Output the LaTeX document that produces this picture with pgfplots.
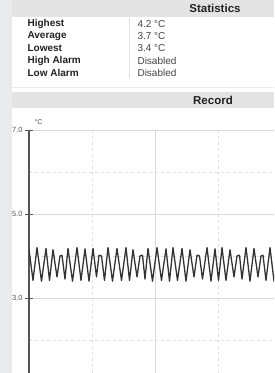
\documentclass[border=0pt]{standalone}
\usepackage{pgfplots}
\pgfplotsset{compat=1.18}
\usepackage{fontspec}
\setmainfont{Liberation Sans}
\definecolor{bgleft}{HTML}{E8EAEC}
\definecolor{hdr}{HTML}{E4E4E4}
\definecolor{gridc}{HTML}{DADADA}
\definecolor{gridm}{HTML}{E0E0E0}
\definecolor{txt}{HTML}{222222}
\definecolor{val}{HTML}{444444}
\definecolor{axc}{HTML}{555555}
\begin{document}
\begin{tikzpicture}[x=1pt,y=1pt]
\path[use as bounding box] (0,0) rectangle (274,373);
\clip (0,0) rectangle (274,373);
\fill[bgleft] (0,0) rectangle (274,373);
\fill[white] (12,0) rectangle (274,373);
% statistics header
\fill[hdr] (12,356) rectangle (274,373);
\node[font=\fontsize{11.5}{12}\selectfont\bfseries, text=txt] at (215,364.5) {Statistics};
\draw[gridm] (129,295) -- (129,355);
\draw[gridm!60] (12,286) -- (274,286);
\begin{scope}[font=\fontsize{10}{11}\selectfont]
\node[anchor=west, text=txt, font=\fontsize{10}{11}\selectfont\bfseries] at (24,349) {Highest};
\node[anchor=west, text=txt, font=\fontsize{10}{11}\selectfont\bfseries] at (24,336.8) {Average};
\node[anchor=west, text=txt, font=\fontsize{10}{11}\selectfont\bfseries] at (24,324.6) {Lowest};
\node[anchor=west, text=txt, font=\fontsize{10}{11}\selectfont\bfseries] at (24,312.4) {High Alarm};
\node[anchor=west, text=txt, font=\fontsize{10}{11}\selectfont\bfseries] at (24,300.2) {Low Alarm};
\node[anchor=west, text=val] at (134,349) {4.2 °C};
\node[anchor=west, text=val] at (134,336.8) {3.7 °C};
\node[anchor=west, text=val] at (134,324.6) {3.4 °C};
\node[anchor=west, text=val] at (134,312.4) {Disabled};
\node[anchor=west, text=val] at (134,300.2) {Disabled};
\end{scope}
% record header
\fill[hdr] (12,265) rectangle (274,281);
\node[font=\fontsize{11.5}{12}\selectfont\bfseries, text=txt] at (213,272.5) {Record};
\begin{axis}[
  at={(29pt,0pt)}, anchor=south west,
  scale only axis, width=245pt, height=243pt,
  xmin=0, xmax=245, ymin=1.214, ymax=7,
  axis lines*=left,
  x axis line style={draw=none},
  y axis line style={draw=axc, line width=1.1pt},
  xtick={126,252}, minor xtick={63,189}, xticklabels={},
  xtick style={draw=none},
  ytick={3,5,7}, minor ytick={2,4,6},
  tick align=center, major tick length=8pt, minor tick length=0pt,
  ytick style={draw=axc, line width=0.8pt},
  grid=both,
  major grid style={draw=gridc, line width=0.6pt},
  minor grid style={draw=gridm, dashed, line width=0.5pt},
  yticklabel style={font=\fontsize{7.5}{8}\selectfont, text=axc, xshift=1pt,
    /pgf/number format/.cd, fixed, fixed zerofill, precision=1, assume math mode=true},
  clip=true,
]
\addplot[draw=black!80, line width=1.3pt, line join=round] coordinates {
(0,4.15) (4,3.42) (8,4.2) (12.5,3.4) (17,4.18) (20.5,3.42) (24,4.15) (28,3.5)
(31,4.0) (33,4.02) (36,3.45) (39,4.18) (43.5,3.4) (48,4.2) (52,3.42) (56,4.17)
(60,3.4) (64,4.18) (67.5,3.5) (70,4.02) (72.5,4.0) (75.5,3.42) (79,4.2) (83.5,3.4)
(88,4.18) (92.5,3.42) (97,4.2) (100.5,3.42) (104,4.15) (108,3.5) (111,4.0) (113.5,4.02)
(116,3.45) (119,4.18) (123.5,3.4) (128,4.2) (132.5,3.42) (137,4.17) (140.5,3.4) (144,4.2)
(148.5,3.42) (153,4.18) (157,3.4) (161,4.15) (165,3.5) (168,4.02) (170.5,4.0) (173.5,3.45)
(178,4.2) (182,3.4) (186,4.17) (189.5,3.42) (193,4.2) (197,3.42) (201,4.15) (205,3.5)
(208,4.0) (210.5,4.02) (213,3.45) (217,4.2) (221,3.4) (225,4.18) (229,3.5) (232,4.0)
(234,4.02) (237,3.42) (241,4.2) (245,3.4) (249,4.18) (253,3.42) (257,4.2)
};
\end{axis}
\node[font=\fontsize{7}{8}\selectfont, text=axc, anchor=west] at (31,251) {°C};
\end{tikzpicture}
\end{document}
